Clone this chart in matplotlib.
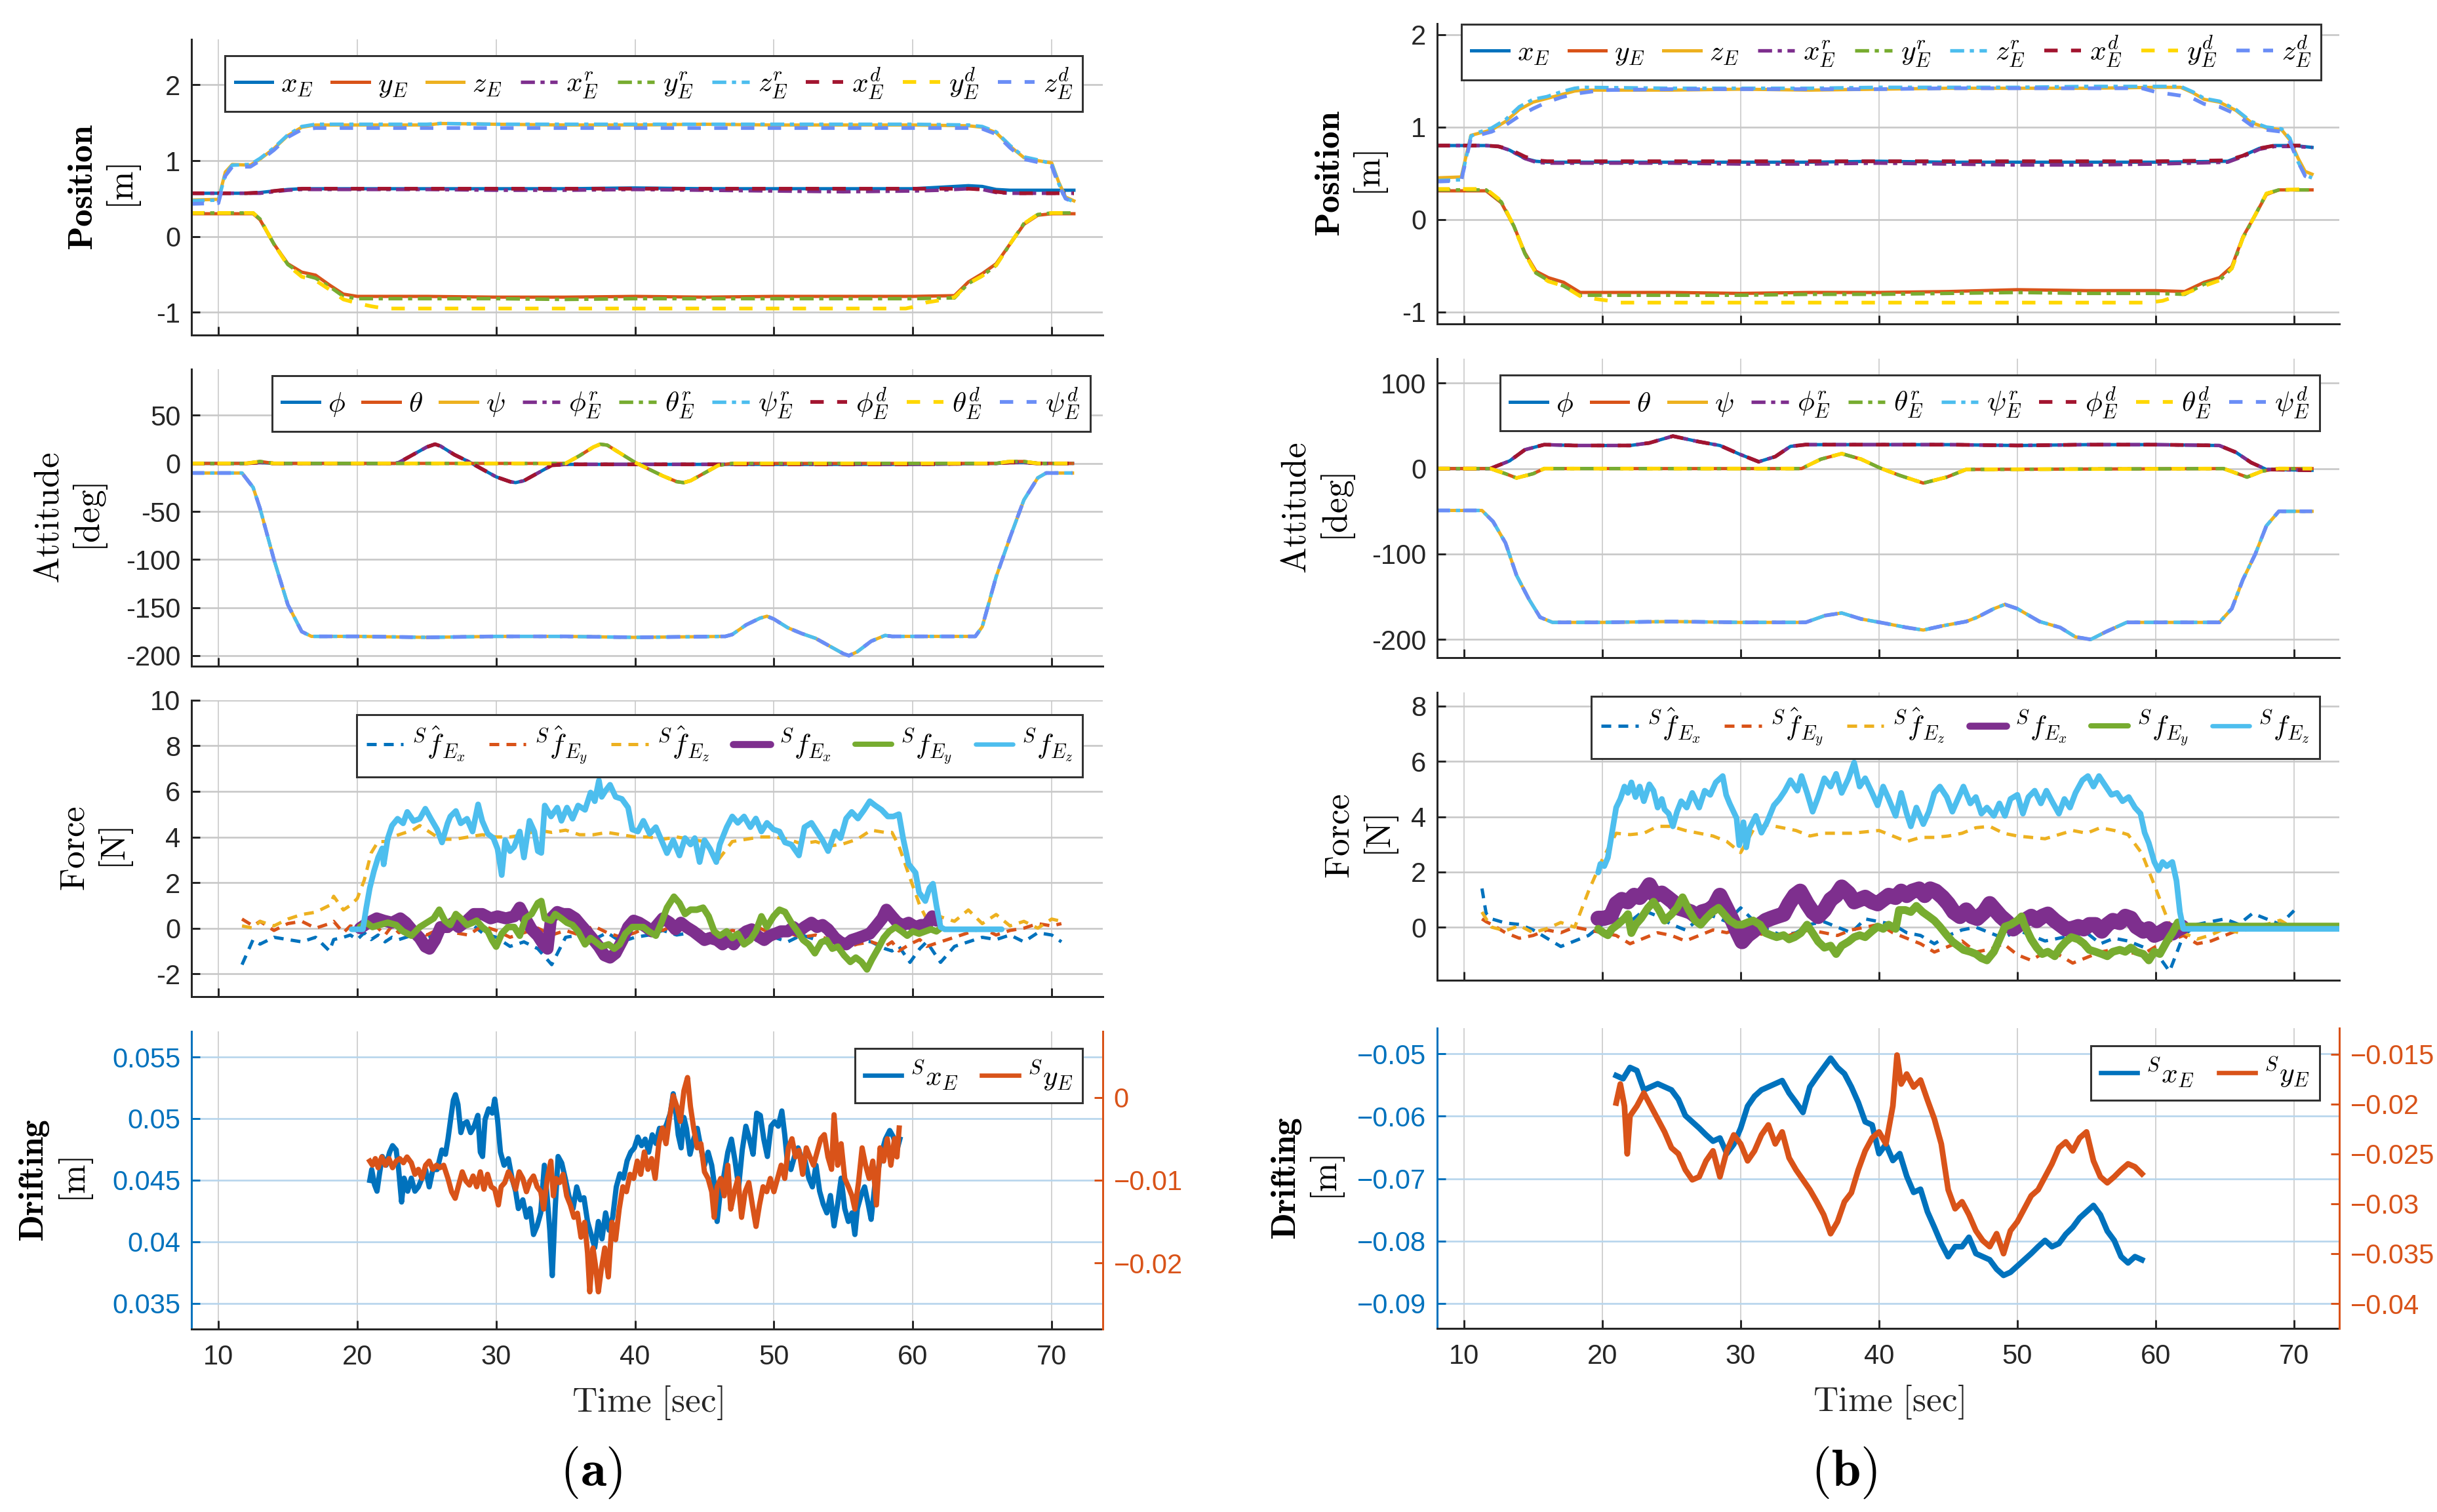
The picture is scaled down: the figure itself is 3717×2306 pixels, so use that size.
import numpy as np
import matplotlib
matplotlib.use("Agg")
import matplotlib.pyplot as plt

plt.rcParams['font.family'] = ['Liberation Sans Narrow', 'Liberation Sans', 'DejaVu Sans']
plt.rcParams['mathtext.fontset'] = 'cm'
plt.rcParams['axes.unicode_minus'] = False

# MATLAB-ish colour order plus the two extra ones used for the "d" series
BLUE = '#0072BD'
ORANGE = '#D95319'
GOLD = '#EDB120'
PURPLE = '#7E2F8E'
GREEN = '#77AC30'
CYAN = '#4DBEEE'
DRED = '#A2142F'
YELLOW = '#FFD700'
PERI = '#6A8DF6'
DARK = '#262626'


def pts(p):
    a = np.array(p, dtype=float)
    return a[:, 0], a[:, 1]


# ---------------------------------------------------------------- (a) position
ta_z = [8, 10, 10.5, 11, 12.3, 13, 14, 15, 16, 17, 20, 25, 26, 30, 35, 40, 45, 50, 55, 60,
        64, 65, 66, 67, 68, 69, 70, 70.5, 71, 71.6]
a_zE = [.48, .49, .85, .95, .94, 1.02, 1.16, 1.33, 1.44, 1.47, 1.47, 1.47, 1.49, 1.48, 1.47,
        1.47, 1.48, 1.47, 1.47, 1.47, 1.46, 1.44, 1.37, 1.19, 1.04, 1.00, 0.97, 0.72, 0.52, 0.47]
a_zr = [.47, .48, .82, .94, .95, 1.03, 1.17, 1.34, 1.45, 1.48, 1.48, 1.48, 1.49, 1.48, 1.48,
        1.48, 1.48, 1.48, 1.48, 1.48, 1.47, 1.45, 1.38, 1.20, 1.05, 1.01, 0.96, 0.70, 0.50, 0.46]
a_zd = [.43, .44, .80, .92, .92, 1.00, 1.14, 1.31, 1.41, 1.43, 1.43, 1.43, 1.43, 1.43, 1.43,
        1.43, 1.43, 1.43, 1.43, 1.43, 1.43, 1.42, 1.35, 1.17, 1.02, 0.98, 0.93, 0.68, 0.50, 0.45]

ta_x = [8, 12, 13, 14, 15, 16, 20, 25, 30, 35, 40, 45, 50, 55, 60, 62, 63, 64, 65, 66, 67, 71.6]
a_xE = [.57, .57, .58, .60, .62, .63, .63, .63, .63, .63, .64, .63, .63, .63, .63, .65, .66,
        .67, .66, .62, .61, .61]
a_xr = [.57, .57, .57, .59, .61, .62, .62, .62, .61, .61, .62, .61, .60, .59, .60, .61, .62,
        .63, .62, .58, .57, .57]
a_xd = [.57, .57, .58, .60, .62, .63, .63, .63, .63, .63, .63, .63, .63, .63, .63, .63, .63,
        .63, .62, .59, .57, .57]

ta_y = [8, 12.5, 13, 14, 15, 16, 17, 18, 19, 20, 25, 30, 35, 40, 45, 50, 55, 60, 63, 64, 65,
        66, 67, 68, 69, 70, 71.6]
a_yE = [.30, .30, .22, -.10, -.36, -.47, -.51, -.64, -.76, -.79, -.79, -.80, -.80, -.79, -.80,
        -.79, -.79, -.79, -.78, -.60, -.49, -.36, -.10, .16, .28, .30, .30]
a_yr = [.31, .31, .23, -.10, -.37, -.50, -.55, -.66, -.79, -.82, -.82, -.82, -.83, -.82, -.82,
        -.82, -.82, -.82, -.81, -.62, -.52, -.38, -.10, .17, .29, .31, .31]
ta_yd = [8, 12.5, 13, 14, 15, 16, 17, 18, 19, 20, 21, 22, 59.5, 60, 61, 62, 63, 64, 65, 66,
         67, 68, 69, 70, 71.6]
a_yd = [.31, .31, .23, -.10, -.38, -.53, -.58, -.70, -.83, -.88, -.92, -.95, -.95, -.93, -.87,
        -.84, -.80, -.62, -.52, -.38, -.10, .17, .29, .31, .31]

# ---------------------------------------------------------------- (a) attitude
ta_psi = [8, 11.7, 12.5, 13, 14, 15, 16, 16.7, 20, 25, 30, 35, 40, 46.5, 47, 48, 49, 49.5, 50,
          51, 52, 53, 54, 55, 55.4, 56, 57, 58, 58.5, 64.5, 65, 66, 67, 68, 69, 69.6, 71.5]
a_psi = [-10, -10, -25, -47, -100, -147, -175, -180, -180, -181, -180, -180, -181, -180, -178,
         -168, -161, -159, -162, -171, -177, -182, -190, -198, -200, -196, -185, -179, -180,
         -180, -170, -118, -77, -38, -15, -10, -10]
ta_phi = [8, 12, 13, 14, 22.7, 23, 24, 25, 25.6, 26, 27, 28, 29, 30, 31, 31.4, 32, 33, 34, 35,
          40, 50, 60, 66, 67, 68, 69, 71.5]
a_phi = [0, 0, 1, 0, 0, 1, 9, 17, 20, 18, 9, 2, -6, -14, -19, -20, -18, -10, -2, -1, -1, -1,
         -1, 0, 1, 1, 0, 0]
ta_th = [8, 12, 13, 14, 35, 36, 37, 37.5, 38, 39, 40, 41, 42, 43, 43.5, 44, 45, 46, 47, 66, 67,
         68, 69, 71.5]
a_th = [0, 0, 2, 0, 0, 8, 17, 20, 19, 10, 1, -6, -13, -19, -20, -18, -10, -2, 0, 0, 2, 2, 0, 0]

# ---------------------------------------------------------------- (a) force
ta_hat = [11.7, 12.5, 13, 14, 15, 16, 17, 18, 18.3, 19, 19.5, 20, 20.5, 21, 21.5, 22, 22.5, 23,
          24, 24.5, 25, 26, 27, 28, 29, 30, 31, 32, 33, 34, 35, 36, 37, 38, 39, 40, 41, 42, 43,
          44, 45, 46, 47, 48, 49, 50, 51, 52, 53, 54, 55, 56, 57, 58, 58.5, 59, 59.8, 60.5, 61,
          62, 63, 64, 65, 66, 67, 68, 69, 70, 70.7]
a_hfx = [-1.6, -0.5, -0.7, -0.4, -0.5, -0.6, -0.4, -1.0, -0.5, -0.4, -0.3, -0.5, -0.2, -0.5,
         -0.3, -0.6, -0.4, -0.5, -0.3, -0.6, -0.4, -0.2, 0.1, 0.3, -0.2, -0.4, -0.8, -0.6, -0.9,
         -1.6, -0.4, -0.3, -0.5, -0.2, -0.6, -0.4, -0.3, -0.1, -0.3, -0.2, -0.4, -0.5, -0.3,
         -0.6, -0.5, -0.4, -0.6, -0.3, -0.5, -0.7, -0.8, -0.5, -0.6, -0.9, -1.0, -0.8, -1.5,
         -0.9, -0.6, -1.5, -0.8, -0.6, -0.4, -0.5, -0.3, -0.6, -0.2, -0.3, -0.6]
a_hfy = [0.4, 0.1, 0.3, -0.1, 0.2, 0.3, 0.0, 0.2, 0.3, -0.2, 0.1, 0.0, -0.1, 0.2, 0.0, -0.3,
         0.1, -0.2, 0.1, -0.1, -0.3, 0.0, -0.2, -0.3, 0.1, -0.1, -0.4, -0.2, 0.0, -0.3, -0.1,
         -0.3, 0.1, -0.2, -0.4, -0.2, 0.1, -0.1, 0.2, 0.0, -0.2, -0.3, -0.1, -0.2, 0.0, -0.3,
         -0.2, -0.4, -0.3, -0.5, -0.9, -0.7, -0.6, -0.8, -0.6, -1.0, -0.7, -0.5, -0.8, -0.6,
         -0.4, -0.2, 0.0, -0.3, -0.1, 0.0, 0.2, 0.1, 0.2]
a_hfz = [0.1, 0.0, 0.3, 0.1, 0.4, 0.6, 0.7, 1.0, 1.4, 0.8, 1.0, 1.3, 2.1, 3.3, 3.8, 3.8, 4.0,
         4.1, 4.3, 4.5, 4.3, 3.9, 3.9, 4.0, 4.1, 4.0, 4.0, 4.1, 4.3, 4.2, 4.3, 4.1, 4.1, 4.2,
         4.1, 4.0, 4.0, 3.9, 4.0, 3.9, 3.8, 3.0, 3.8, 3.9, 4.0, 4.0, 3.9, 3.7, 3.8, 3.6, 3.7,
         3.9, 4.3, 4.2, 4.2, 3.6, 2.2, 1.0, 0.4, 0.5, 0.3, 0.8, 0.2, 0.6, 0.1, 0.3, 0.0, 0.4, 0.3]

a_fx_pts = [
    (20.2, 0), (20.8, 0.24), (21.4, 0.43), (21.9, 0.33), (22.5, 0.24), (23.1, 0.43), (23.5, 0.24),
    (23.9, -0.05), (24.5, -0.43), (24.9, -0.81), (25.2, -0.9), (25.6, -0.52), (26, 0.05),
    (26.5, 0.05), (26.9, 0.24), (27.3, 0.05), (27.9, 0.33), (28.4, 0.62), (29, 0.62), (29.6, 0.43),
    (30.1, 0.52), (30.7, 0.43), (31.3, 0.52), (31.7, 0.9), (32.1, 0.43), (32.55, -0.05),
    (33, -0.33), (33.4, -0.71), (33.7, -0.9), (33.95, 0.43), (34.4, 0.71), (34.8, 0.62),
    (35.2, 0.62), (35.7, 0.43), (36.1, 0.14), (36.5, -0.14), (36.9, -0.43), (37.4, -0.81),
    (37.8, -1.19), (38.2, -1.29), (38.6, -1.1), (39.1, -0.52), (39.5, 0.05), (39.9, 0.33),
    (40.3, 0.24), (40.8, 0.05), (41.2, -0.14), (41.6, 0.14), (42, 0.43), (42.5, 0.24),
    (42.9, -0.05), (43.3, 0.24), (43.7, 0.05), (44.2, -0.14), (44.6, -0.33), (45, -0.52),
    (45.4, -0.43), (45.9, -0.52), (46.3, -0.71), (46.7, -0.52), (47.1, -0.71), (47.6, -0.33),
    (48, -0.14), (48.4, -0.05), (48.8, -0.33), (49.3, -0.52), (49.7, -0.33), (50.1, -0.24),
    (50.5, -0.14), (51, -0.14), (51.4, 0.05), (51.8, -0.14), (52.2, 0.05), (52.7, 0.24),
    (53.1, 0.05), (53.5, 0.14), (53.9, -0.05), (54.4, -0.43), (54.8, -0.62), (55.2, -0.71),
    (55.6, -0.52), (56.05, -0.43), (56.5, -0.33), (56.9, -0.24), (57.3, 0.05), (57.8, 0.43),
    (58.1, 0.81), (58.5, 0.52), (58.9, 0.24), (59.3, 0.14), (59.7, 0.24), (60.2, 0.05),
    (60.6, 0.14), (61, 0.14), (61.4, 0.52), (61.7, 0.33)]
a_fy_pts = [
    (20.2, 0.05), (20.65, 0.24), (21.1, 0.05), (21.6, 0.14), (22.2, 0.24), (22.8, 0.14),
    (23.3, -0.14), (23.9, -0.33), (24.5, 0.05), (25, 0.24), (25.5, 0.43), (25.9, 0.81),
    (26.3, 0.33), (26.7, 0.14), (27.1, 0.62), (27.45, 0.43), (27.9, 0.14), (28.3, 0.24),
    (28.6, 0.33), (29, 0.05), (29.4, -0.14), (29.7, -0.52), (30, -0.81), (30.4, -0.24),
    (30.85, 0.05), (31.3, 0.05), (31.7, -0.33), (32.1, 0.43), (32.55, 0.62), (33, 1.1),
    (33.25, 1.19), (33.5, 0.43), (33.95, 0.33), (34.25, 0.62), (34.7, 0.43), (35.1, 0.24),
    (35.5, 0.14), (35.9, -0.14), (36.4, -0.71), (36.8, -0.43), (37.2, -0.62), (37.6, -0.81),
    (38.1, -0.71), (38.5, -0.9), (38.9, -0.71), (39.3, -0.24), (39.8, 0.05), (40.2, 0.05),
    (40.6, 0.05), (41, -0.14), (41.5, -0.33), (41.9, 0.24), (42.3, 0.9), (42.8, 1.38),
    (43.2, 1.1), (43.6, 0.62), (44, 0.81), (44.45, 0.81), (44.9, 0.9), (45.3, 0.52),
    (45.7, -0.14), (46.1, -0.33), (46.6, -0.14), (47, -0.43), (47.4, -0.24), (47.85, -0.71),
    (48.3, -0.52), (48.7, -0.14), (49.1, 0.52), (49.5, 0.05), (49.97, 0.52), (50.4, 0.81),
    (50.8, 0.71), (51.25, 0.24), (51.7, -0.14), (52.1, -0.52), (52.5, -0.71), (52.95, -1.1),
    (53.4, -0.62), (53.8, -0.52), (54.2, -0.9), (54.6, -0.81), (55.05, -1.19), (55.5, -1.48),
    (55.9, -1.29), (56.3, -1.48), (56.7, -1.81), (57.05, -1.38), (57.5, -0.9), (57.9, -0.43),
    (58.3, -0.14), (58.75, 0.05), (59.2, -0.14), (59.6, -0.33), (60, -0.14), (60.45, -0.24),
    (60.9, -0.14), (61.3, -0.05), (61.7, -0.14), (62, 0.0)]
a_fz_pts = [
    (19.6, -0.05), (20.4, -0.05), (20.65, 0.9), (20.9, 1.76), (21.2, 2.5), (21.5, 3.1),
    (21.8, 3.5), (21.9, 2.8), (22.2, 3.95), (22.5, 4.5), (22.9, 4.8), (23.3, 4.6), (23.6, 5.1),
    (24.05, 4.7), (24.5, 4.8), (24.9, 5.24), (25.3, 4.8), (25.75, 4.33), (26.1, 3.76),
    (26.5, 4.6), (26.7, 4.9), (27.1, 5.14), (27.45, 4.6), (27.9, 4.8), (28.3, 4.24),
    (28.7, 5.43), (29, 4.7), (29.4, 4.14), (29.8, 3.95), (30.1, 3.48), (30.4, 2.33),
    (30.65, 3.86), (31, 3.38), (31.3, 3.57), (31.7, 4.24), (32, 3.1), (32.4, 4.71),
    (32.75, 4.24), (33, 3.38), (33.25, 3.3), (33.5, 5.38), (33.95, 4.9), (34.4, 5.29),
    (34.7, 4.71), (35.1, 5.29), (35.5, 4.8), (35.9, 5.38), (36.4, 5.19), (36.8, 5.95),
    (37.1, 5.57), (37.4, 6.48), (37.6, 5.76), (37.9, 6.05), (38.2, 6.29), (38.6, 5.76),
    (39.05, 5.67), (39.5, 5.29), (39.8, 4.33), (40.2, 4.24), (40.6, 4.71), (41.05, 4.14),
    (41.5, 4.43), (41.9, 3.86), (42.3, 3.29), (42.75, 3.86), (43.2, 3.19), (43.6, 3.95),
    (44, 3.67), (44.3, 3.95), (44.65, 2.9), (45, 3.86), (45.4, 3.48), (45.85, 2.9),
    (46.1, 3.67), (46.6, 4.43), (47, 4.9), (47.4, 4.62), (47.85, 4.9), (48.3, 4.43),
    (48.7, 4.81), (49.1, 4.24), (49.5, 4.62), (49.97, 4.33), (50.4, 4.24), (50.8, 3.76),
    (51.25, 3.67), (51.8, 3.19), (52.2, 4.43), (52.7, 4.62), (53.1, 4.24), (53.5, 3.86),
    (53.9, 3.38), (54.4, 4.24), (54.8, 3.95), (55.2, 4.81), (55.6, 5.1), (56.05, 4.81),
    (56.5, 5.19), (56.9, 5.57), (57.3, 5.38), (57.75, 5.19), (58.2, 4.9), (58.6, 4.9),
    (59, 5.0), (59.3, 3.95), (59.7, 2.81), (60.2, 2.43), (60.45, 1.57), (60.9, 1.19),
    (61.2, 1.76), (61.45, 1.95), (61.7, 1.0), (62, 0.05), (62.3, -0.05), (66.4, -0.05)]

# ---------------------------------------------------------------- (a) drifting
a_sx_pts = [
    (20.9, .04498), (21.04, .04586), (21.24, .04463), (21.42, .0441), (21.6, .04551),
    (21.8, .04692), (22.07, .04621), (22.33, .04727), (22.54, .0478), (22.8, .04745),
    (22.98, .04586), (23.19, .04322), (23.37, .04516), (23.63, .0441), (23.89, .04516),
    (24.15, .0441), (24.4, .04445), (24.66, .04516), (24.92, .04586), (25.18, .04445),
    (25.44, .04586), (25.75, .04586), (26.09, .04745), (26.35, .0471), (26.53, .04833),
    (26.74, .05009), (26.92, .0515), (27.07, .05194), (27.25, .05114), (27.46, .04886),
    (27.64, .04956), (27.9, .04974), (28.16, .04886), (28.42, .04938), (28.68, .05026),
    (28.86, .04727), (29.02, .04692), (29.2, .04991), (29.46, .05079), (29.72, .05044),
    (29.9, .05158), (30.1, .04991), (30.31, .04727), (30.57, .04621), (30.88, .04674),
    (31.14, .04516), (31.4, .0441), (31.6, .04269), (31.92, .0434), (32.18, .04199),
    (32.44, .04269), (32.69, .04058), (32.95, .04128), (33.21, .04234), (33.47, .04621),
    (33.68, .04357), (33.86, .04093), (34.04, .03724), (34.25, .04269), (34.46, .04692),
    (34.72, .04639), (34.97, .04516), (35.23, .04375), (35.54, .04269), (35.8, .04445),
    (36.06, .0434), (36.32, .04357), (36.58, .04164), (36.84, .04058), (37.1, .03952),
    (37.36, .04164), (37.62, .04023), (37.88, .04234), (38.13, .04093), (38.39, .04199),
    (38.65, .04445), (38.91, .04551), (39.17, .04516), (39.43, .04657), (39.69, .04727),
    (39.95, .04762), (40.2, .0485), (40.47, .0478), (40.73, .04833), (40.98, .04727),
    (41.24, .04868), (41.5, .04798), (41.76, .04921), (42.02, .04886), (42.28, .04956),
    (42.54, .05044), (42.75, .05202), (42.93, .05062), (43.11, .04868), (43.32, .04762),
    (43.52, .05009), (43.7, .04921), (43.96, .0471), (44.22, .04833), (44.48, .04921),
    (44.74, .04762), (45.0, .04621), (45.26, .04727), (45.52, .04621), (45.78, .0441),
    (45.91, .04164), (46.11, .04375), (46.37, .04516), (46.68, .04727), (46.94, .04833),
    (47.2, .04657), (47.46, .04445), (47.72, .04745), (47.98, .04938), (48.24, .04833),
    (48.5, .0471), (48.76, .05044), (49.02, .05026), (49.27, .04833), (49.53, .04692),
    (49.79, .04938), (50.05, .04974), (50.31, .04938), (50.57, .05062), (50.78, .04868),
    (50.96, .04657), (51.22, .04586), (51.48, .04692), (51.74, .04762), (52.0, .04674),
    (52.25, .04657), (52.51, .04516), (52.77, .04445), (53.03, .04621), (53.29, .0441),
    (53.55, .04305), (53.81, .04234), (54.07, .04375), (54.33, .04128), (54.59, .04305),
    (54.84, .04516), (55.1, .04269), (55.36, .04164), (55.62, .04234), (55.83, .04058),
    (56.01, .04269), (56.27, .04375), (56.53, .04445), (56.79, .04305), (57.0, .04181),
    (57.25, .04445), (57.51, .04586), (57.77, .04727), (58.03, .04833), (58.34, .04903),
    (58.6, .0485), (58.86, .04745), (59.07, .04833)]
a_sy_pts = [
    (20.9, -.0077), (21.09, -.0082), (21.3, -.0074), (21.5, -.0085), (21.76, -.0072),
    (22.02, -.0082), (22.28, -.0074), (22.54, -.0085), (22.8, -.0077), (23.06, -.0074),
    (23.32, -.0079), (23.58, -.0072), (23.89, -.0079), (24.15, -.0093), (24.4, -.0087),
    (24.66, -.0098), (24.92, -.0082), (25.18, -.0077), (25.44, -.0087), (25.7, -.0082),
    (25.96, -.0085), (26.22, -.0082), (26.53, -.0098), (26.79, -.0114), (27.05, -.0122),
    (27.3, -.0106), (27.56, -.0090), (27.82, -.0101), (28.08, -.0106), (28.34, -.0095),
    (28.6, -.0108), (28.86, -.0090), (29.12, -.0111), (29.38, -.0093), (29.64, -.0108),
    (29.9, -.0111), (30.16, -.0130), (30.36, -.0108), (30.62, -.0103), (30.88, -.0090),
    (31.14, -.0098), (31.4, -.0111), (31.66, -.0090), (31.92, -.0098), (32.18, -.0114),
    (32.44, -.0101), (32.69, -.0095), (32.95, -.0108), (33.21, -.0114), (33.42, -.0135),
    (33.68, -.0098), (33.94, -.0077), (34.12, -.0119), (34.3, -.0098), (34.56, -.0103),
    (34.82, -.0093), (35.08, -.0119), (35.34, -.0130), (35.6, -.0145), (35.85, -.0140),
    (36.11, -.0169), (36.37, -.0151), (36.58, -.0188), (36.74, -.0235), (36.97, -.0182),
    (37.15, -.0203), (37.36, -.0235), (37.56, -.0209), (37.82, -.0182), (38.08, -.0217),
    (38.34, -.0151), (38.6, -.0172), (38.86, -.0135), (39.12, -.0108), (39.38, -.0114),
    (39.64, -.0093), (39.9, -.0098), (40.16, -.0077), (40.41, -.0093), (40.67, -.0066),
    (40.93, -.0087), (41.19, -.0074), (41.45, -.0098), (41.71, -.0056), (41.97, -.0037),
    (42.23, -.0056), (42.49, -.0024), (42.75, .0002), (43.01, -.0011), (43.26, -.0029),
    (43.52, .0008), (43.78, .0024), (43.99, -.0011), (44.22, -.0037), (44.48, -.0061),
    (44.74, -.0056), (45.0, -.0090), (45.26, -.0098), (45.52, -.0114), (45.7, -.0145),
    (45.91, -.0108), (46.17, -.0098), (46.42, -.0119), (46.68, -.0082), (46.89, -.0135),
    (47.15, -.0114), (47.41, -.0098), (47.67, -.0145), (47.93, -.0114), (48.19, -.0103),
    (48.45, -.0130), (48.71, -.0156), (48.96, -.0130), (49.22, -.0108), (49.48, -.0114),
    (49.74, -.0098), (50.0, -.0114), (50.26, -.0098), (50.52, -.0082), (50.78, -.0098),
    (51.04, -.0061), (51.3, -.0050), (51.55, -.0072), (51.81, -.0064), (52.07, -.0093),
    (52.33, -.0061), (52.59, -.0072), (52.85, -.0082), (53.11, -.0066), (53.37, -.0050),
    (53.63, -.0045), (53.89, -.0072), (54.15, -.0087), (54.33, -.0021), (54.59, -.0082),
    (54.84, -.0056), (55.1, -.0098), (55.36, -.0108), (55.62, -.0119), (55.83, -.0135),
    (56.09, -.0103), (56.35, -.0061), (56.6, -.0082), (56.86, -.0098), (57.12, -.0077),
    (57.38, -.0130), (57.64, -.0061), (57.9, -.0077), (58.16, -.0050), (58.42, -.0082),
    (58.68, -.0050), (58.86, -.0072), (59.02, -.0037)]

# ---------------------------------------------------------------- (b) position
tb_z = [8, 9.8, 10.5, 11, 12, 13, 14, 15, 16, 17, 18, 18.6, 25, 30, 35, 40, 45, 50, 55, 60,
        61.8, 62.7, 63.5, 64.6, 65.8, 66.9, 68, 69.1, 69.7, 70.3, 70.8, 71.3]
b_zE = [.45, .46, .91, .93, .97, 1.06, 1.19, 1.27, 1.31, 1.35, 1.39, 1.40, 1.40, 1.41, 1.40,
        1.41, 1.42, 1.42, 1.42, 1.43, 1.43, 1.37, 1.30, 1.27, 1.18, 1.05, .99, .97, .86, .66,
        .52, .49]
b_zr = [.42, .43, .90, .94, .99, 1.08, 1.22, 1.30, 1.33, 1.38, 1.42, 1.43, 1.42, 1.42, 1.42,
        1.43, 1.43, 1.43, 1.44, 1.44, 1.44, 1.38, 1.31, 1.28, 1.19, 1.06, 1.00, .98, .88, .62,
        .48, .45]
tb_zd = [8, 9.8, 10.5, 11, 12, 13, 14, 15, 16, 17, 18, 20, 25, 30, 35, 40, 45, 50, 55, 59, 60,
         61.8, 62.7, 63.5, 64.6, 65.8, 66.9, 68, 69.1, 69.7, 70.3, 70.8, 71.3]
b_zd = [.41, .42, .88, .91, .95, 1.02, 1.12, 1.20, 1.27, 1.32, 1.36, 1.40, 1.41, 1.41, 1.41,
        1.41, 1.42, 1.42, 1.42, 1.42, 1.38, 1.34, 1.31, 1.25, 1.22, 1.14, 1.02, .97, .95, .84,
        .62, .47, .44]

tb_x = [8, 11.6, 12.5, 13.3, 14.4, 15.2, 16, 20, 25, 30, 35, 40, 45, 50, 55, 60, 65.2, 66.3,
        67.5, 68.6, 70, 71.3]
b_xE = [.80, .80, .79, .75, .66, .63, .62, .62, .62, .62, .62, .63, .62, .62, .62, .62, .63,
        .69, .77, .80, .80, .78]
b_xr = [.80, .80, .79, .75, .66, .62, .61, .61, .61, .60, .60, .61, .60, .59, .59, .60, .62,
        .68, .76, .79, .79, .78]
b_xd = [.80, .80, .79, .76, .68, .64, .63, .63, .63, .63, .63, .63, .63, .63, .63, .63, .64,
        .69, .77, .80, .80, .80]

tb_y = [8, 11.6, 12.7, 13.6, 14.4, 15.2, 16.1, 17.2, 18.4, 20, 25, 30, 35, 40, 45, 50, 55, 60,
        62.1, 63.5, 64.6, 65.5, 66.3, 67.2, 68, 68.9, 71.3]
b_yE = [.31, .31, .18, -.07, -.36, -.56, -.63, -.68, -.79, -.79, -.79, -.80, -.79, -.79, -.78,
        -.76, -.77, -.77, -.78, -.68, -.63, -.51, -.19, .05, .27, .32, .32]
b_yr = [.32, .32, .19, -.07, -.37, -.58, -.66, -.72, -.82, -.82, -.82, -.82, -.81, -.81, -.80,
        -.79, -.80, -.80, -.81, -.70, -.66, -.53, -.20, .05, .28, .32, .32]
tb_yd = [8, 11.6, 12.7, 13.6, 14.4, 15.2, 16.1, 17.2, 18.4, 19.5, 20.5, 21.2, 59.5, 60.5, 61.5,
         62.5, 63.5, 64.6, 65.5, 66.3, 67.2, 68, 68.9, 71.3]
b_yd = [.33, .33, .20, -.07, -.37, -.58, -.67, -.72, -.83, -.86, -.88, -.90, -.90, -.88, -.83,
        -.78, -.72, -.66, -.53, -.20, .05, .28, .32, .33]

# ---------------------------------------------------------------- (b) attitude
tb_psi = [8, 11.3, 12.1, 13, 13.8, 14.7, 15.5, 16.4, 20, 25, 30, 34.7, 36.1, 37.3, 38.7, 40.4,
          42, 43.2, 44.6, 46.3, 47.1, 48.3, 49.1, 50, 51.6, 53.1, 54.2, 55.3, 56.4, 57.9, 64.6,
          65.5, 66.3, 67.2, 68, 68.9, 71.3]
b_psi = [-49, -49, -62, -87, -125, -153, -174, -180, -180, -179, -180, -180, -172, -169, -176,
         -181, -186, -189, -184, -179, -174, -164, -159, -164, -179, -186, -197, -200, -191,
         -180, -180, -164, -130, -100, -67, -50, -50]
tb_phi = [8, 11.9, 13.3, 14.4, 15.8, 18, 20, 22, 23.4, 25.1, 26.8, 28.5, 29.9, 31.3, 32.5, 33.6,
          34.7, 40, 45, 50, 55, 60, 64.6, 65.8, 66.9, 68, 71.3]
b_phi = [0, 0, 9, 22, 28, 27, 27, 27, 30, 38, 32, 27, 17, 8, 14, 26, 28, 28, 28, 27, 28, 28, 27,
         19, 7, -1, -2]
tb_th = [8, 11.9, 13, 13.8, 15, 15.8, 34.4, 35.8, 37.3, 38.7, 40.1, 41.5, 43.2, 44.9, 46.3,
         64.9, 66.6, 67.7, 68.9, 71.3]
b_th = [0, 0, -6, -11, -6, 0, 0, 11, 17.5, 11, 0.5, -8, -17, -10, -1, 0, -10, -3, 0, 0]

# ---------------------------------------------------------------- (b) force
tb_hat = [11.3, 11.6] + list(range(12, 71))
b_hfx = [1.4, 0.5, 0.3, 0.15, 0.1, -0.1, -0.4, -0.7, -0.5, -0.3, 0.1, 0.3, 0.2, 0.6, 0.4, 0.1,
         -0.1, 0.3, 0.4, 0.2, 0.7, 0.2, -0.1, -0.3, -0.2, 0.1, 0.2, 0.0, -0.2, 0.3, 0.2, 0.1,
         -0.2, -0.3, -0.6, -0.3, -0.1, 0.0, -0.2, -0.4, -0.1, -0.3, -0.5, -0.4, -0.3, -0.2,
         -0.6, -0.4, -0.5, -0.7, -0.9, -1.6, -0.3, 0.1, 0.2, 0.3, 0.1, 0.5, 0.3, 0.1, 0.6]
b_hfy = [0.3, 0.2, 0.1, -0.2, -0.4, -0.3, -0.1, -0.2, 0.0, -0.1, -0.2, -0.3, -0.6, -0.4, -0.2,
         -0.3, -0.5, -0.3, -0.1, -0.2, 0.0, -0.2, -0.3, -0.4, -0.2, -0.1, -0.2, -0.3, -0.1, 0.0,
         0.1, -0.2, -0.4, -0.6, -0.9, -0.7, -0.5, -0.9, -0.8, -0.6, -1.0, -1.2, -0.9, -1.0,
         -1.3, -1.1, -0.9, -0.8, -0.9, -1.0, -0.7, -0.5, -0.3, -0.6, -0.5, -0.3, -0.1, 0.0, 0.1,
         0.0, 0.0]
b_hfz = [0.55, 0.3, 0.0, -0.13, 0.06, -0.2, -0.05, 0.17, 0.0, 1.3, 2.45, 3.4, 3.35, 3.4, 3.65,
         3.65, 3.5, 3.4, 3.3, 3.1, 2.7, 3.6, 3.7, 3.6, 3.5, 3.3, 3.4, 3.4, 3.4, 3.45, 3.5, 3.3,
         3.1, 3.25, 3.25, 3.3, 3.4, 3.6, 3.65, 3.4, 3.3, 3.25, 3.2, 3.35, 3.5, 3.4, 3.6, 3.5,
         3.35, 2.67, 1.4, 0.1, -0.2, -0.43, -0.28, -0.05, -0.2, 0.0, 0.1, 0.25, -0.05]

b_fx_pts = [
    (19.7, 0.32), (20.1, 0.32), (20.6, 0.39), (21, 0.85), (21.4, 1.0), (21.85, 0.92), (22.3, 1.15),
    (22.7, 1.08), (23.1, 1.3), (23.4, 1.53), (23.8, 1.15), (24.3, 1.23), (24.7, 1.08),
    (25.1, 0.92), (25.5, 0.7), (26, 0.62), (26.4, 0.55), (26.8, 0.39), (27.2, 0.55), (27.7, 0.62),
    (28.1, 0.77), (28.5, 1.15), (28.95, 0.7), (29.4, 0.24), (29.8, -0.21), (30.1, -0.52),
    (30.5, -0.29), (30.9, -0.14), (31.4, 0.09), (31.8, 0.24), (32.2, 0.32), (32.6, 0.39),
    (33.1, 0.47), (33.5, 0.85), (33.9, 1.15), (34.3, 1.3), (34.8, 0.85), (35.2, 0.55),
    (35.6, 0.39), (36.05, 0.62), (36.5, 1.0), (36.9, 1.15), (37.3, 1.45), (37.8, 1.23),
    (38.2, 0.92), (38.6, 1.0), (39, 1.08), (39.5, 0.92), (39.9, 0.85), (40.3, 1.0), (40.7, 1.15),
    (41.2, 1.08), (41.6, 1.3), (42, 1.15), (42.4, 1.3), (42.9, 1.38), (43.3, 1.15), (43.7, 1.38),
    (44.1, 1.3), (44.6, 1.08), (45, 0.85), (45.4, 0.55), (45.85, 0.39), (46.3, 0.62),
    (46.7, 0.39), (47.1, 0.32), (47.6, 0.55), (48, 0.85), (48.4, 0.62), (48.8, 0.39),
    (49.3, 0.17), (49.7, -0.06), (50.1, 0.09), (50.5, 0.24), (51, 0.39), (51.4, 0.24),
    (51.8, 0.39), (52.2, 0.47), (52.7, 0.24), (53.1, 0.09), (53.5, -0.06), (53.9, -0.06),
    (54.4, 0.02), (54.8, -0.06), (55.2, 0.09), (55.65, 0.09), (56.1, -0.14), (56.5, 0.09),
    (56.9, 0.24), (57.4, 0.17), (57.8, 0.39), (58.2, 0.32), (58.6, 0.02), (59.1, -0.14),
    (59.5, -0.06), (59.9, -0.29), (60.3, -0.21), (60.8, -0.06), (61.2, -0.21), (61.6, -0.06),
    (61.9, 0.0)]
b_fy_pts = [
    (19.7, -0.06), (20.1, -0.21), (20.4, -0.29), (20.7, -0.06), (21.1, 0.09), (21.6, 0.32),
    (21.85, 0.47), (22.1, -0.21), (22.4, 0.09), (22.8, 0.32), (23.3, 0.7), (23.7, 0.92),
    (24.1, 0.62), (24.5, 0.24), (25, 0.47), (25.4, 0.7), (25.8, 1.08), (26.25, 0.62),
    (26.7, 0.24), (27.1, 0.09), (27.5, 0.32), (27.95, 0.55), (28.4, 0.7), (28.8, 0.47),
    (29.2, 0.24), (29.7, 0.09), (30.1, 0.09), (30.5, 0.17), (30.9, 0.24), (31.4, 0.09),
    (31.8, -0.21), (32.2, -0.29), (32.6, -0.36), (33.1, -0.29), (33.5, -0.44), (33.9, -0.36),
    (34.35, -0.21), (34.8, 0.09), (35.2, -0.21), (35.6, -0.52), (36.05, -0.74), (36.5, -0.67),
    (36.9, -0.97), (37.3, -0.67), (37.8, -0.52), (38.2, -0.36), (38.6, -0.29), (39, -0.36),
    (39.5, -0.14), (39.9, 0.02), (40.3, -0.06), (40.7, 0.09), (41.2, -0.06), (41.45, 0.62),
    (41.9, 0.62), (42.3, 0.55), (42.7, 0.77), (43.15, 0.55), (43.6, 0.39), (44, 0.24),
    (44.4, 0.02), (44.9, -0.29), (45.3, -0.52), (45.7, -0.67), (46.1, -0.82), (46.6, -0.89),
    (47, -0.97), (47.4, -1.12), (47.8, -1.2), (48.3, -0.89), (48.7, -0.44), (49.1, 0.02),
    (49.5, 0.09), (50, 0.24), (50.3, 0.39), (50.5, 0.09), (51, -0.44), (51.4, -0.74),
    (51.8, -0.97), (52.2, -0.89), (52.7, -1.05), (53.1, -0.74), (53.5, -0.52), (53.9, -0.36),
    (54.4, -0.44), (54.8, -0.59), (55.2, -0.82), (55.65, -0.89), (56.1, -0.97), (56.5, -1.05),
    (56.9, -0.89), (57.4, -0.82), (57.8, -0.89), (58.2, -0.74), (58.6, -0.89), (59.1, -0.97),
    (59.5, -1.2), (59.9, -0.89), (60.3, -0.97), (60.8, -0.52), (61.2, -0.21), (61.6, 0.17),
    (61.9, 0.02), (73.3, 0.02)]
b_fz_pts = [
    (19.7, 1.98), (19.86, 2.29), (20.14, 2.21), (20.4, 2.52), (20.7, 3.42), (21, 4.33),
    (21.3, 4.64), (21.6, 5.09), (21.85, 4.86), (22.1, 5.24), (22.4, 4.71), (22.7, 5.09),
    (23, 4.56), (23.4, 5.17), (23.7, 4.94), (24, 4.33), (24.3, 4.64), (24.5, 4.26), (24.8, 4.11),
    (25.1, 3.65), (25.4, 4.18), (25.7, 4.56), (26.1, 4.33), (26.5, 4.86), (27, 4.33),
    (27.4, 4.94), (27.8, 4.79), (28.2, 5.24), (28.7, 5.47), (28.95, 4.79), (29.2, 4.48),
    (29.7, 3.95), (29.9, 2.97), (30.2, 3.8), (30.4, 2.89), (30.65, 3.58), (31.1, 4.03),
    (31.5, 3.42), (31.9, 3.8), (32.4, 4.41), (32.8, 4.64), (33.2, 4.94), (33.6, 5.32),
    (34.1, 4.94), (34.4, 5.47), (34.8, 4.86), (35.2, 4.18), (35.6, 4.71), (36.05, 5.39),
    (36.5, 5.09), (36.9, 5.55), (37.3, 4.86), (37.8, 5.39), (38.2, 5.96), (38.6, 5.09),
    (39, 5.39), (39.5, 4.86), (39.9, 4.41), (40.3, 5.09), (40.7, 4.64), (41.2, 4.03),
    (41.6, 4.86), (42, 4.11), (42.3, 3.65), (42.7, 4.33), (43.2, 3.73), (43.6, 4.18),
    (44, 4.86), (44.4, 5.09), (44.9, 4.71), (45.3, 4.18), (45.7, 4.64), (46.1, 5.09),
    (46.6, 4.48), (47, 4.71), (47.4, 4.11), (47.8, 4.33), (48.3, 4.03), (48.7, 4.48),
    (49.1, 4.03), (49.5, 4.64), (50, 4.79), (50.4, 4.11), (50.8, 4.71), (51.25, 4.94),
    (51.7, 4.48), (52.1, 4.94), (52.5, 4.56), (53, 4.11), (53.4, 4.64), (53.8, 4.33),
    (54.2, 4.86), (54.7, 5.32), (55.1, 5.47), (55.5, 5.09), (55.9, 5.47), (56.4, 5.09),
    (56.8, 4.79), (57.2, 4.86), (57.6, 4.56), (58.05, 4.71), (58.5, 4.33), (58.9, 4.11),
    (59.2, 3.42), (59.5, 3.05), (59.9, 2.36), (60.2, 2.06), (60.5, 2.36), (60.8, 2.21),
    (61.2, 2.36), (61.5, 1.68), (61.75, 0.55), (62, -0.06), (73.3, -0.06)]

# ---------------------------------------------------------------- (b) drifting
tb_sx = np.arange(21, 59.01, 0.5)
b_sx = [-0.0535, -0.0540, -0.0522, -0.0527, -0.0558, -0.0553, -0.0548, -0.0553, -0.0558,
        -0.0573, -0.0599, -0.0609, -0.0619, -0.0630, -0.0640, -0.0635, -0.0660, -0.0645,
        -0.0619, -0.0584, -0.0568, -0.0558, -0.0553, -0.0548, -0.0543, -0.0563, -0.0578,
        -0.0594, -0.0553, -0.0537, -0.0522, -0.0507, -0.0522, -0.0532, -0.0553, -0.0578,
        -0.0609, -0.0614, -0.0660, -0.0645, -0.0671, -0.0660, -0.0696, -0.0722, -0.0717,
        -0.0753, -0.0778, -0.0804, -0.0825, -0.0809, -0.0809, -0.0794, -0.0820, -0.0825,
        -0.0830, -0.0845, -0.0855, -0.0850, -0.0840, -0.0830, -0.0820, -0.0809, -0.0799,
        -0.0809, -0.0804, -0.0789, -0.0778, -0.0763, -0.0753, -0.0743, -0.0758, -0.0784,
        -0.0799, -0.0825, -0.0835, -0.0825, -0.0830]
tb_sy = np.r_[21, 21.3, 21.6, 21.8, np.arange(22, 41.01, 0.5), 41.3, 41.6,
              np.arange(42, 59.01, 0.5)]
b_sy = [-0.0199, -0.0180, -0.0202, -0.0250, -0.0212, -0.0202, -0.0189, -0.0202, -0.0215,
        -0.0228, -0.0244, -0.0250, -0.0266, -0.0276, -0.0273, -0.0257, -0.0247, -0.0273,
        -0.0247, -0.0231, -0.0240, -0.0257, -0.0247, -0.0231, -0.0221, -0.0240, -0.0228,
        -0.0254, -0.0266, -0.0276, -0.0286, -0.0298, -0.0311, -0.0330, -0.0318, -0.0298,
        -0.0289, -0.0266, -0.0247, -0.0234, -0.0228, -0.0240, -0.0202, -0.0151, -0.0180,
        -0.0170, -0.0183, -0.0176, -0.0196, -0.0215, -0.0240, -0.0286, -0.0305, -0.0298,
        -0.0311, -0.0327, -0.0337, -0.0343, -0.0330, -0.0350, -0.0327, -0.0318, -0.0305,
        -0.0292, -0.0286, -0.0273, -0.0260, -0.0244, -0.0238, -0.0247, -0.0234, -0.0228,
        -0.0257, -0.0273, -0.0279, -0.0273, -0.0266, -0.0260, -0.0263, -0.0270]

POS_LABELS = [r'$x_E$', r'$y_E$', r'$z_E$', r'$x_E^r$', r'$y_E^r$', r'$z_E^r$',
              r'$x_E^d$', r'$y_E^d$', r'$z_E^d$']
ATT_LABELS = [r'$\phi$', r'$\theta$', r'$\psi$', r'$\phi_E^r$', r'$\theta_E^r$', r'$\psi_E^r$',
              r'$\phi_E^d$', r'$\theta_E^d$', r'$\psi_E^d$']
FORCE_LABELS = [r'${}^{S}\hat{f}_{E_x}$', r'${}^{S}\hat{f}_{E_y}$', r'${}^{S}\hat{f}_{E_z}$',
                r'${}^{S}f_{E_x}$', r'${}^{S}f_{E_y}$', r'${}^{S}f_{E_z}$']
DRIFT_LABELS = [r'${}^{S}x_E$', r'${}^{S}y_E$']

SOLID = dict(ls='-', lw=1.5)
DASHDOT = dict(ls=(0, (4, 1.6, 1.2, 1.6)), lw=1.6)
DASHED = dict(ls=(0, (3.6, 3.6)), lw=1.7)
HAT = dict(ls=(0, (3, 2.2)), lw=1.5)
NINE_COLORS = [BLUE, ORANGE, GOLD, PURPLE, GREEN, CYAN, DRED, YELLOW, PERI]
NINE_STYLES = [SOLID] * 3 + [DASHDOT] * 3 + [DASHED] * 3


def base_style(ax, xlim, ylim, yticks, bottom=False):
    ax.set_xlim(*xlim)
    ax.set_ylim(*ylim)
    ax.set_xticks(range(10, 71, 10))
    ax.set_yticks(yticks)
    ax.set_axisbelow(True)
    ax.grid(axis='x', color='#d2d2d2', lw=0.6)
    ax.grid(axis='y', color='#c8c8c8', lw=0.8)
    for s in ('top', 'right'):
        ax.spines[s].set_visible(False)
    for s in ('left', 'bottom'):
        ax.spines[s].set_color(DARK)
        ax.spines[s].set_linewidth(0.9)
    ax.tick_params(direction='in', length=4, width=0.9, colors=DARK, labelsize=12.5)
    ax.tick_params(axis='x', pad=7)
    ax.tick_params(axis='y', pad=5)
    if not bottom:
        ax.tick_params(labelbottom=False)


def legend_box(ax, handles, labels, box, ncol, handle_lw=None):
    x0, x1, y0, y1 = box
    leg = ax.legend(handles, labels, loc='center', bbox_to_anchor=(x0, y0, x1 - x0, y1 - y0),
                    mode='expand', ncol=ncol, fontsize=13, frameon=True, fancybox=False,
                    edgecolor='#333333', framealpha=1, handlelength=1.3, handletextpad=0.3,
                    columnspacing=0.4, borderpad=0.35, borderaxespad=0)
    leg.get_frame().set_linewidth(0.9)
    if handle_lw:
        for h, w in zip(leg.legend_handles, handle_lw):
            h.set_linewidth(w)
    return leg


def ylab(ax, top, bottom_txt, xpos, bold=True):
    first = r'$\mathbf{%s}$' % top if bold else r'$\mathrm{%s}$' % top
    ax.set_ylabel(first + '\n' + r'$\mathrm{%s}$' % bottom_txt, fontsize=16, linespacing=1.2)
    ax.yaxis.set_label_coords(xpos, 0.5)


def nine_panel(ax, series):
    lines = []
    for (t, v), c, st in zip(series, NINE_COLORS, NINE_STYLES):
        ln, = ax.plot(t, v, color=c, **st)
        lines.append(ln)
    return lines


def force_panel(ax, t_hat, hx, hy, hz, fx_pts, fy_pts, fz_pts, w_fx, w_fy):
    lines = [ax.plot(t_hat, hx, color=BLUE, **HAT)[0],
             ax.plot(t_hat, hy, color=ORANGE, **HAT)[0],
             ax.plot(t_hat, hz, color=GOLD, **HAT)[0]]
    for p, c, w in ((fx_pts, PURPLE, w_fx), (fy_pts, GREEN, w_fy), (fz_pts, CYAN, 2.6)):
        t, v = pts(p)
        lines.append(ax.plot(t, v, color=c, lw=w, solid_joinstyle='round',
                             solid_capstyle='round')[0])
    return lines


def drift_twin(ax, ylim, ticks, labels):
    ax2 = ax.twinx()
    ax2.set_ylim(*ylim)
    ax2.set_yticks(ticks)
    ax2.set_yticklabels(labels)
    for s in ('top', 'left', 'bottom'):
        ax2.spines[s].set_visible(False)
    ax2.spines['right'].set_color(ORANGE)
    ax2.spines['right'].set_linewidth(0.9)
    ax2.tick_params(direction='in', length=4, width=0.9, colors=ORANGE, labelsize=12.5, pad=5)
    return ax2


def drift_left(ax):
    ax.grid(axis='y', color='#b7d5ec', lw=0.8)
    ax.spines['left'].set_color(BLUE)
    ax.tick_params(axis='y', colors=BLUE)


fig = plt.figure(figsize=(3717 / 240, 2306 / 240), dpi=240)

AX_A, AW_A = 0.07856, 0.37396
AX_B, AW_B = 0.58972, 0.37019
XL_A = (8.06, 73.68)
XL_B = (8.06, 73.27)
FORCE_HANDLE_LW = [1.5, 1.5, 1.5, 3.2, 2.4, 2.0]

# ------------------------------ column (a)
ax = fig.add_axes([AX_A, 0.7784, AW_A, 0.1956])
base_style(ax, XL_A, (-1.3, 2.6), [-1, 0, 1, 2])
ln = nine_panel(ax, [(ta_x, a_xE), (ta_y, a_yE), (ta_z, a_zE), (ta_x, a_xr), (ta_y, a_yr),
                     (ta_z, a_zr), (ta_x, a_xd), (ta_yd, a_yd), (ta_z, a_zd)])
legend_box(ax, ln, POS_LABELS, (0.037, 0.978, 0.765, 0.936), 9)
ylab(ax, 'Position', '[m]', -0.053)

ax = fig.add_axes([AX_A, 0.5594, AW_A, 0.1964])
base_style(ax, XL_A, (-211, 98), [-200, -150, -100, -50, 0, 50])
ln = nine_panel(ax, [(ta_phi, a_phi), (ta_th, a_th), (ta_psi, a_psi)] * 3)
legend_box(ax, ln, ATT_LABELS, (0.0885, 0.986, 0.801, 0.969), 9)
ylab(ax, 'Attitude', '[deg]', -0.09, bold=False)

ax = fig.add_axes([AX_A, 0.3409, AW_A, 0.196])
base_style(ax, XL_A, (-3, 10), [-2, 0, 2, 4, 6, 8, 10])
ln = force_panel(ax, ta_hat, a_hfx, a_hfy, a_hfz, a_fx_pts, a_fy_pts, a_fz_pts, 5.5, 3.0)
legend_box(ax, ln, FORCE_LABELS, (0.181, 0.978, 0.761, 0.931), 6, FORCE_HANDLE_LW)
ylab(ax, 'Force', '[N]', -0.062, bold=False)

ax = fig.add_axes([AX_A, 0.121, AW_A, 0.197])
base_style(ax, XL_A, (0.0329, 0.0571), [0.035, 0.04, 0.045, 0.05, 0.055], bottom=True)
ax.set_yticklabels(['0.035', '0.04', '0.045', '0.05', '0.055'])
drift_left(ax)
t, v = pts(a_sx_pts)
l1, = ax.plot(t, v, color=BLUE, lw=2.4)
ax2 = drift_twin(ax, (-0.028, 0.008), [-0.02, -0.01, 0], ['\u22120.02', '\u22120.01', '0'])
t, v = pts(a_sy_pts)
l2, = ax2.plot(t, v, color=ORANGE, lw=2.4)
legend_box(ax2, [l1, l2], DRIFT_LABELS, (0.728, 0.978, 0.767, 0.934), 2, [2.0, 2.0])
ylab(ax, 'Drifting', '[m]', -0.106)
ax.set_xlabel(r'$\mathrm{Time\ [sec]}$', fontsize=16, labelpad=6, color=DARK)

# ------------------------------ column (b)
ax = fig.add_axes([AX_B, 0.7858, AW_B, 0.1986])
base_style(ax, XL_B, (-1.13, 2.12), [-1, 0, 1, 2])
ln = nine_panel(ax, [(tb_x, b_xE), (tb_y, b_yE), (tb_z, b_zE), (tb_x, b_xr), (tb_y, b_yr),
                     (tb_z, b_zr), (tb_x, b_xd), (tb_yd, b_yd), (tb_zd, b_zd)])
legend_box(ax, ln, POS_LABELS, (0.027, 0.98, 0.823, 0.989), 9)
ylab(ax, 'Position', '[m]', -0.052)

ax = fig.add_axes([AX_B, 0.5652, AW_B, 0.1978])
base_style(ax, XL_B, (-221, 129), [-200, -100, 0, 100])
ln = nine_panel(ax, [(tb_phi, b_phi), (tb_th, b_th), (tb_psi, b_psi)] * 3)
legend_box(ax, ln, ATT_LABELS, (0.070, 0.978, 0.769, 0.933), 9)
ylab(ax, 'Attitude', '[deg]', -0.089, bold=False)

ax = fig.add_axes([AX_B, 0.3517, AW_B, 0.1904])
base_style(ax, XL_B, (-1.92, 8.5), [0, 2, 4, 6, 8])
ln = force_panel(ax, tb_hat, b_hfx, b_hfy, b_hfz, b_fx_pts, b_fy_pts, b_fz_pts, 7.0, 3.6)
legend_box(ax, ln, FORCE_LABELS, (0.171, 0.978, 0.792, 0.964), 6, FORCE_HANDLE_LW)
ylab(ax, 'Force', '[N]', -0.041, bold=False)

ax = fig.add_axes([AX_B, 0.1214, AW_B, 0.1986])
base_style(ax, XL_B, (-0.094, -0.0459), [-0.09, -0.08, -0.07, -0.06, -0.05], bottom=True)
ax.set_yticklabels(['\u22120.09', '\u22120.08', '\u22120.07', '\u22120.06', '\u22120.05'])
drift_left(ax)
l1, = ax.plot(tb_sx, b_sx, color=BLUE, lw=2.6)
ax2 = drift_twin(ax, (-0.0425, -0.0124), [-0.04, -0.035, -0.03, -0.025, -0.02, -0.015],
                 ['\u22120.04', '\u22120.035', '\u22120.03', '\u22120.025', '\u22120.02',
                  '\u22120.015'])
l2, = ax2.plot(tb_sy, b_sy, color=ORANGE, lw=2.6)
legend_box(ax2, [l1, l2], DRIFT_LABELS, (0.7245, 0.978, 0.771, 0.932), 2, [2.0, 2.0])
ylab(ax, 'Drifting', '[m]', -0.10)
ax.set_xlabel(r'$\mathrm{Time\ [sec]}$', fontsize=16, labelpad=6, color=DARK)

fig.text(902 / 3717, 1 - 2246 / 2306, r'$\mathbf{(a)}$', ha='center', va='center', fontsize=24)
fig.text(2812 / 3717, 1 - 2246 / 2306, r'$\mathbf{(b)}$', ha='center', va='center', fontsize=24)

fig.savefig('out.png', dpi=240)
